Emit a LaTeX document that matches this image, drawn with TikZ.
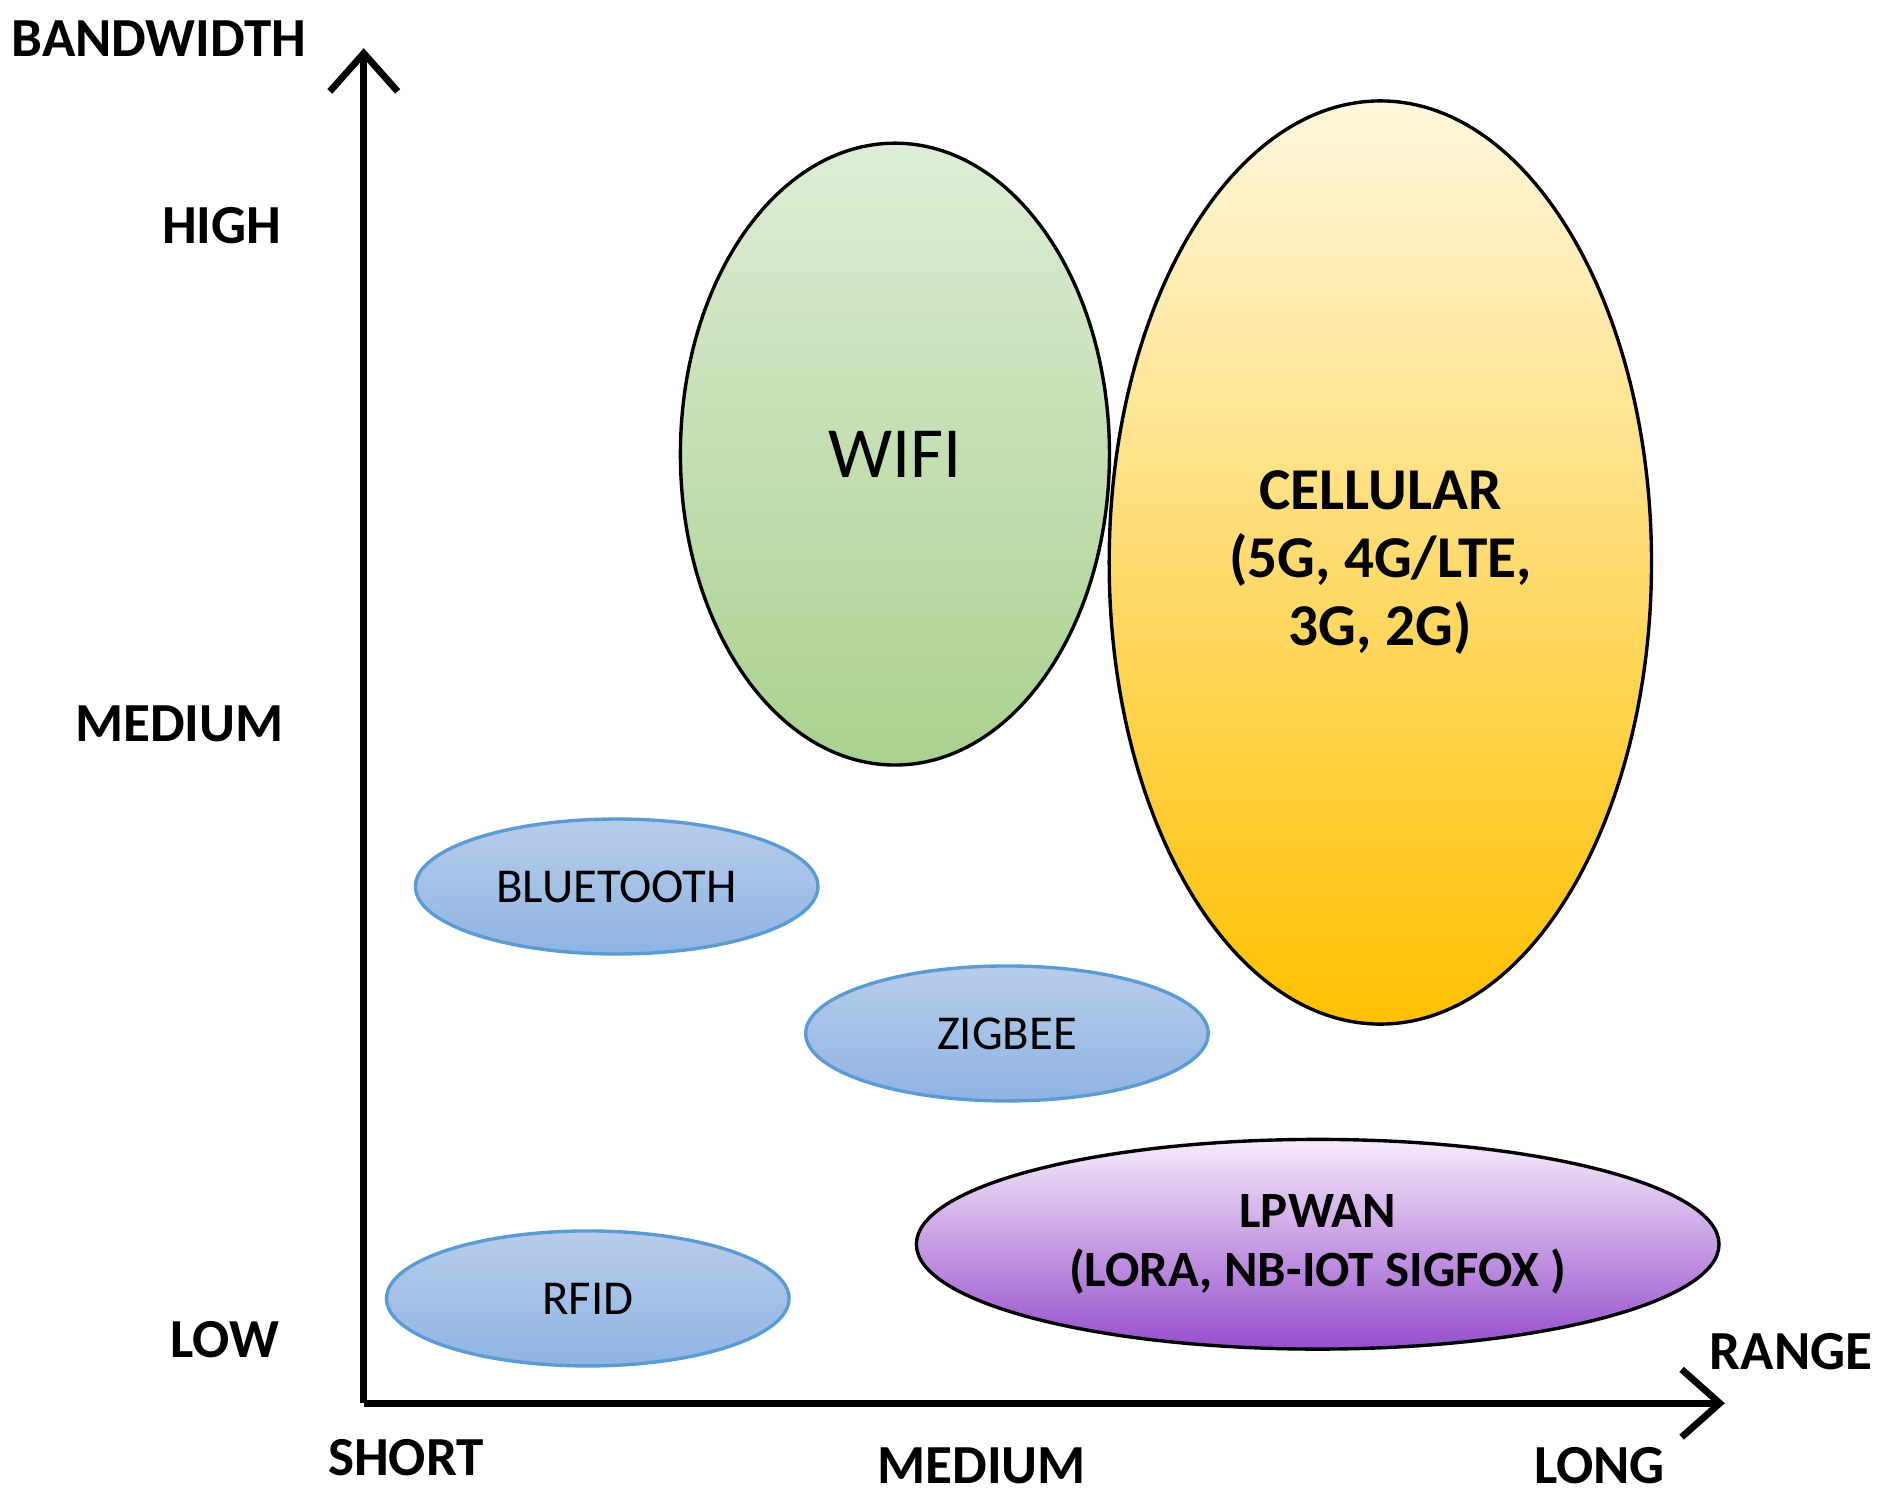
\documentclass[tikz,border=0pt]{standalone}
\usepackage{fontspec}
\setmainfont{Carlito}
\usetikzlibrary{shapes.geometric,arrows.meta}
\definecolor{bluebd}{HTML}{5B9BD5}
\begin{document}
\begin{tikzpicture}[x=0.01cm,y=-0.01cm,
  ax/.style={font=\fontsize{13}{15}\selectfont\bfseries},
  blob/.style={ellipse,inner sep=0pt,align=center},
  small/.style={blob,draw=bluebd,line width=0.8pt,top color={rgb,255:red,183;green,204;blue,234},bottom color={rgb,255:red,143;green,180;blue,227},font=\fontsize{11.5}{13}\selectfont,minimum width=3.34cm,minimum height=1.12cm},
  axis/.style={line width=1.6pt,-{Straight Barb[length=9pt,width=16pt,line width=1.6pt]}}]
\useasboundingbox (0,0) rectangle (1560,1239);
\coordinate (o) at (302,1165);
\coordinate (yt) at (302,40);
\coordinate (xt) at (1432,1165);
\draw[axis] (o) -- (yt);
\draw[axis] (o) -- (xt);
\node[blob,draw=black,line width=0.8pt,minimum width=3.56cm,minimum height=5.16cm,top color={rgb,255:red,222;green,237;blue,214},bottom color={rgb,255:red,169;green,209;blue,142},font=\fontsize{17}{20}\selectfont] (wifi) at (743,377) {WIFI};
\node[blob,draw=black,line width=0.8pt,minimum width=4.5cm,minimum height=7.66cm,top color={rgb,255:red,255;green,247;blue,222},bottom color={rgb,255:red,255;green,192;blue,0},font=\fontsize{14}{16}\selectfont\bfseries] (cell) at (1146,467) {CELLULAR\\(5G, 4G/LTE,\\3G, 2G)};
\node[small] (bt) at (512,736) {BLUETOOTH};
\node[small] (zig) at (836,858) {ZIGBEE};
\node[small] (rfid) at (488,1078) {RFID};
\node[blob,draw=black,line width=0.8pt,minimum width=6.66cm,minimum height=1.74cm,top color={rgb,255:red,246;green,235;blue,250},bottom color={rgb,255:red,150;green,78;blue,205},font=\fontsize{12}{14}\selectfont\bfseries] (lp) at (1094,1033) {LPWAN\\(LORA, NB-IOT SIGFOX )};
\node[ax] (bw) at (132,32) {BANDWIDTH};
\node[ax,anchor=east] (hi) at (246,187) {HIGH};
\node[ax,anchor=east] (med) at (248,601) {MEDIUM};
\node[ax,anchor=east] (low) at (244,1112) {LOW};
\node[ax] (sh) at (337,1210) {SHORT};
\node[ax] (mr) at (815,1217) {MEDIUM};
\node[ax] (lg) at (1328,1217) {LONG};
\node[ax] (rg) at (1487,1122) {RANGE};
\end{tikzpicture}
\end{document}
